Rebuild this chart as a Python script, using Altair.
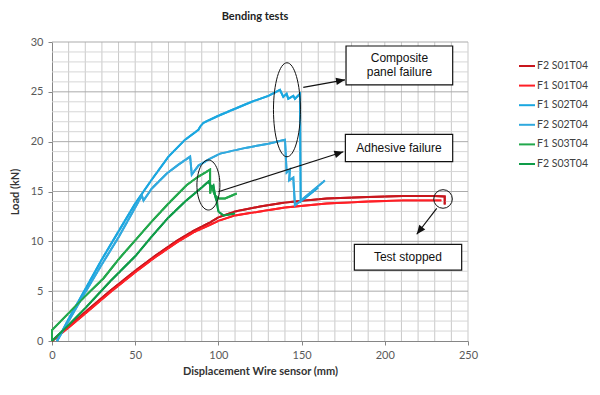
import altair as alt
import pandas as pd

# ---------------- data ----------------
series_names = ["F2 S01T04", "F1 S01T04", "F1 S02T04", "F2 S02T04", "F1 S03T04", "F2 S03T04"]
series_colors = ["#C8161D", "#FF1F26", "#1AA7E0", "#30A9DE", "#22A84C", "#0E9C48"]

f2_s01_x = [0, 10, 20, 35, 50, 62, 75, 85, 95, 100, 110, 125, 140, 165, 190, 211, 230, 236, 236]
f2_s01_y = [0, 1.45, 2.9, 5.05, 7.05, 8.55, 10.05, 11.05, 11.9, 12.4, 13.0, 13.5, 13.9, 14.3, 14.45, 14.55, 14.55, 14.5, 13.7]

f1_s01_x = [0, 10, 20, 35, 50, 62, 75, 85, 95, 100, 110, 125, 140, 165, 190, 211, 234]
f1_s01_y = [0, 1.35, 2.75, 4.9, 6.9, 8.4, 9.9, 10.9, 11.65, 12.05, 12.6, 13.0, 13.4, 13.8, 14.0, 14.1, 14.1]

f1_s02_x = [3, 10, 20, 30, 40, 50, 60, 70, 80, 88, 89, 91, 100, 110, 120, 130, 137, 139, 141, 142, 145, 146, 149, 149.5, 160]
f1_s02_y = [0, 2.2, 5.2, 8.2, 11.0, 13.8, 16.2, 18.5, 20.2, 21.2, 21.5, 21.9, 22.6, 23.3, 24.0, 24.6, 25.2, 24.5, 24.8, 24.3, 24.6, 24.3, 24.8, 14.0, 15.4]

f2_s02_x = [3, 10, 20, 30, 40, 48, 54, 55, 60, 69, 76, 83, 84, 88, 95, 101, 117, 130, 140, 141, 143, 142.5, 145, 146, 164]
f2_s02_y = [0, 2.0, 4.9, 7.7, 10.4, 12.8, 14.6, 14.1, 15.3, 16.8, 17.7, 18.5, 16.7, 17.6, 18.3, 18.8, 19.4, 19.8, 20.2, 16.9, 17.2, 16.1, 16.4, 13.6, 16.1]

f1_s03_x = [0, 0, 10, 20, 31, 40, 50, 60, 70, 81, 88, 94, 95, 95, 96, 97, 98, 100, 104, 111]
f1_s03_y = [0, 1.1, 2.8, 4.5, 6.3, 8.2, 10.1, 12.0, 13.8, 15.65, 16.5, 17.1, 17.2, 14.8, 15.6, 15.0, 14.6, 14.3, 14.3, 14.8]

f2_s03_x = [0, 10, 20, 35, 50, 60, 70, 80, 90, 94, 96, 97, 98, 99, 100, 103, 110]
f2_s03_y = [0, 1.6, 3.3, 6.0, 8.5, 10.5, 12.4, 14.0, 15.4, 16.0, 15.4, 15.6, 14.6, 14.0, 13.0, 12.6, 12.8]

# tick / grid positions
x_ticks = [0, 50, 100, 150, 200, 250]
y_ticks = [0, 5, 10, 15, 20, 25, 30]
x_minor = [10, 20, 30, 40, 50, 60, 70, 80, 90, 100, 110, 120, 130, 140, 150, 160, 170, 180, 190, 200, 210, 220, 230, 240, 250]
y_minor = [1, 2, 3, 4, 6, 7, 8, 9, 11, 12, 13, 14, 16, 17, 18, 19, 21, 22, 23, 24, 26, 27, 28, 29]
y_major = [5, 10, 15, 20, 25, 30]
x_range = [0, 250]
y_range = [0, 30]

# annotations (data units)
box_x1 = [176.7, 176.3, 181.7]
box_x2 = [240.8, 240.8, 246.2]
box_y1 = [29.6, 20.74, 9.70]
box_y2 = [25.7, 17.99, 7.12]
box_tx = [208.8, 208.5, 213.9]
box_ty = [28.4, 19.36, 8.43]
box_text = ["Composite\npanel failure", "Adhesive failure", "Test stopped"]

arrow_x1 = [151.0, 99.9, 231.2]
arrow_y1 = [25.45, 14.98, 13.31]
arrow_x2 = [176.1, 175.1, 219.2]
arrow_y2 = [26.2, 18.99, 10.71]
arrow_angle = [80.5, 72.3, 217.6]

ell_x = [141.2, 94.0]
ell_y = [23.2, 15.65]
circ_x = [235.0]
circ_y = [14.25]

# ---------------- build tables ----------------
rows = []
all_series = [
    (series_names[0], f2_s01_x, f2_s01_y),
    (series_names[1], f1_s01_x, f1_s01_y),
    (series_names[2], f1_s02_x, f1_s02_y),
    (series_names[3], f2_s02_x, f2_s02_y),
    (series_names[4], f1_s03_x, f1_s03_y),
    (series_names[5], f2_s03_x, f2_s03_y),
]
for name, xs, ys in all_series:
    for i, (xv, yv) in enumerate(zip(xs, ys)):
        rows.append({"x": xv, "y": yv, "series": name, "i": i})
df = pd.DataFrame(rows)

xs_ = alt.Scale(domain=x_range, nice=False)
ys_ = alt.Scale(domain=y_range, nice=False)

x_axis = alt.Axis(values=x_ticks, grid=False, tickSize=4, labelPadding=4, titlePadding=5,
                  labelFlush=False, domainColor="#868686", tickColor="#868686")
y_axis = alt.Axis(values=y_ticks, grid=False, tickSize=4, labelPadding=5, titlePadding=10,
                  labelFlush=False, domainColor="#868686", tickColor="#868686")

def X(f):
    return alt.X(f, scale=xs_)

def Y(f):
    return alt.Y(f, scale=ys_)

# gridlines as rule marks
grid_vx = alt.Chart(pd.DataFrame({"gx": x_minor})).mark_rule(color="#C9C9C9", strokeWidth=1).encode(
    x=X("gx:Q"))
grid_hy = alt.Chart(pd.DataFrame({"gy": y_minor})).mark_rule(color="#D6D6D6", strokeWidth=1).encode(
    y=Y("gy:Q"))
grid_hY = alt.Chart(pd.DataFrame({"gy": y_major})).mark_rule(color="#ABABAB", strokeWidth=1).encode(
    y=Y("gy:Q"))

legend = alt.Legend(title=None, orient="none", legendX=466, legendY=15,
                    symbolType="stroke", symbolSize=256, symbolStrokeWidth=2,
                    labelFontSize=10.5, labelFont="Lato", labelColor="#404040",
                    rowPadding=4.6, labelOffset=1, padding=0)

def line_layer():
    return alt.Chart(df).mark_line(strokeWidth=2).encode(
        x=alt.X("x:Q", scale=xs_, axis=x_axis, title="Displacement Wire sensor (mm)"),
        y=alt.Y("y:Q", scale=ys_, axis=y_axis, title="Load (kN)"),
        color=alt.Color("series:N", scale=alt.Scale(domain=series_names, range=series_colors),
                        legend=legend),
        order=alt.Order("i:Q"),
        detail="series:N",
    )

lines_base = line_layer()
lines_top = line_layer()

def ellipse_path(a):
    k = 0.5523
    return (f"M 0 -1 C {k*a:.4f} -1 {a} {-k} {a} 0 C {a} {k} {k*a:.4f} 1 0 1 "
            f"C {-k*a:.4f} 1 {-a} {k} {-a} 0 C {-a} {-k} {-k*a:.4f} -1 0 -1 Z")

ell1 = alt.Chart(pd.DataFrame({"x": ell_x[:1], "y": ell_y[:1]})).mark_point(
    shape=ellipse_path(0.287), size=8836, filled=False, color="#111111", strokeWidth=1, opacity=1).encode(
    x=X("x:Q"), y=Y("y:Q"))
ell2 = alt.Chart(pd.DataFrame({"x": ell_x[1:], "y": ell_y[1:]})).mark_point(
    shape=ellipse_path(0.46), size=2500, filled=False, color="#111111", strokeWidth=1, opacity=1).encode(
    x=X("x:Q"), y=Y("y:Q"))
circ = alt.Chart(pd.DataFrame({"x": circ_x, "y": circ_y})).mark_point(
    shape="circle", size=346, filled=False, color="#111111", strokeWidth=1, opacity=1).encode(
    x=X("x:Q"), y=Y("y:Q"))

adf = pd.DataFrame({"x1": arrow_x1, "y1": arrow_y1, "x2": arrow_x2, "y2": arrow_y2, "ang": arrow_angle})
arrows = alt.Chart(adf).mark_rule(color="#111111", strokeWidth=1.2).encode(
    x=X("x1:Q"), y=Y("y1:Q"), x2="x2:Q", y2="y2:Q")
heads = alt.Chart(adf).mark_point(shape="M 0 0 L 0.42 1 L -0.42 1 Z", size=324, filled=True,
                                  color="#111111", opacity=1).encode(
    x=X("x2:Q"), y=Y("y2:Q"), angle=alt.Angle("ang:Q", scale=None))

bdf = pd.DataFrame({"x1": box_x1, "x2": box_x2, "y1": box_y1, "y2": box_y2,
                    "tx": box_tx, "ty": box_ty, "t": box_text})
boxes = alt.Chart(bdf).mark_rect(fill="white", stroke="#111111", strokeWidth=1.2).encode(
    x=X("x1:Q"), y=Y("y1:Q"), x2="x2:Q", y2="y2:Q")
btext = alt.Chart(bdf).mark_text(font="Liberation Sans", fontSize=12, color="#111111",
                                 lineBreak="\n", lineHeight=14, baseline="middle", align="center").encode(
    x=X("tx:Q"), y=Y("ty:Q"), text="t:N")

chart = alt.layer(lines_base, grid_vx, grid_hy, grid_hY, lines_top, ell1, ell2, circ, arrows, heads,
                  boxes, btext).properties(
    width=416, height=299,
    autosize=alt.AutoSizeParams(type="none"),
    padding={"left": 44, "top": 34, "right": 124, "bottom": 46},
    title=alt.TitleParams("Bending tests", font="Lato", fontSize=11, fontWeight="bold", anchor="middle",
                          frame="group", dx=-5, offset=14, color="#222222"),
).configure_axis(
    labelFont="Lato", labelFontSize=11, labelColor="#595959",
    titleFont="Lato", titleFontSize=11, titleFontWeight="bold", titleColor="#333333",
).configure_view(strokeWidth=0)

chart.save("out.html", embed_options={"renderer": "svg", "actions": False})
